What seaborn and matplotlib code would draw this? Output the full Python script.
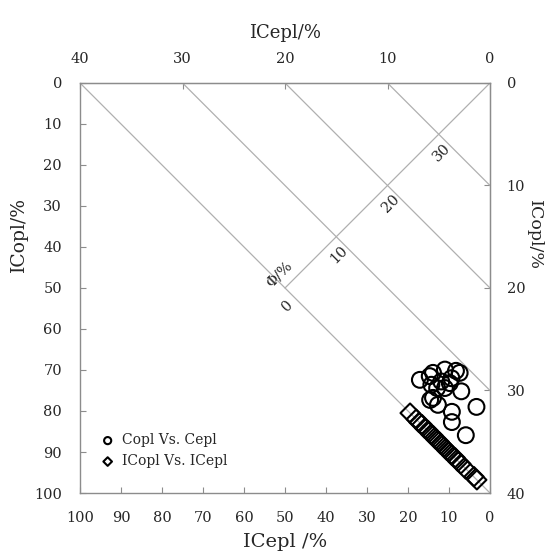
import numpy as np
import pandas as pd
import matplotlib
matplotlib.use('Agg')
import matplotlib.pyplot as plt
import seaborn as sns

# Copl Vs. Cepl (circles)
copl_x = [17.1, 14.7, 13.9, 11.0, 7.4, 8.3, 14.3, 11.9, 9.8, 9.4,
          11.0, 7.0, 13.9, 12.7, 3.3, 9.3, 9.3, 5.9, 12.9, 14.6]
copl_y = [72.4, 71.5, 70.7, 69.9, 70.7, 70.2, 73.6, 72.8, 73.2, 72.0,
          74.4, 75.2, 76.8, 78.5, 79.0, 80.2, 82.7, 85.9, 74.4, 77.3]

# ICopl Vs. ICepl (diamonds)
icopl_x = [19.5, 18.0, 17.3, 16.6, 15.9, 15.1, 14.4, 13.9, 13.2, 12.4, 12.0,
           11.2, 10.5, 10.0, 9.3, 8.5, 7.8, 7.1, 5.9, 3.9, 3.2]
icopl_y = [80.5, 82.0, 82.8, 83.3, 84.2, 84.8, 85.7, 86.0, 86.9, 87.5, 88.1,
           88.8, 89.6, 90.0, 90.8, 91.4, 92.3, 92.9, 94.2, 96.0, 96.8]

# Φ/% iso-lines
phi_levels = [0, 10, 20, 30]

copl = pd.DataFrame({'x': copl_x, 'y': copl_y})
icopl = pd.DataFrame({'x': icopl_x, 'y': icopl_y})

sns.set_style('ticks')
plt.rcParams['font.family'] = ['DejaVu Serif']
plt.rcParams['mathtext.fontset'] = 'dejavuserif'

fig = plt.figure(figsize=(5.5, 5.55), dpi=100)
ax = fig.add_axes([0.1455, 0.1117, 0.7454, 0.7388])

grey = '#b0b0b0'
# Φ lines: x + y = 100 - 2.5*Φ
for phi in phi_levels:
    s = 100 - 2.5 * phi
    ax.plot([s, 0], [0, s], color=grey, lw=0.9, zorder=1)
# diagonal from origin to the Φ=0 line
ax.plot([0, 50], [0, 50], color=grey, lw=0.9, zorder=1)

for phi in phi_levels:
    c = 50 - 1.25 * phi
    ax.annotate(str(phi), (c, c), xytext=(2, -13), textcoords='offset points',
                rotation=45, ha='center', va='center', fontsize=10.5)
ax.annotate('Φ/%', (50, 50), xytext=(-4, 10), textcoords='offset points',
            rotation=45, ha='center', va='center', fontsize=10.5)

sns.scatterplot(data=copl, x='x', y='y', marker='o', s=130, facecolor='none',
                edgecolor='black', linewidth=1.5, ax=ax, label='Copl Vs. Cepl', zorder=3)
sns.scatterplot(data=icopl, x='x', y='y', marker='D', s=95, facecolor='none',
                edgecolor='black', linewidth=1.5, ax=ax, label='ICopl Vs. ICepl', zorder=3)

ax.set_xlim(100, 0)
ax.set_ylim(100, 0)
ax.set_xticks(np.arange(0, 101, 10))
ax.set_yticks(np.arange(0, 101, 10))
ax.set_xlabel('ICepl /%', fontsize=14, labelpad=6)
ax.set_ylabel('ICopl/%', fontsize=13.5, va='center', ha='center')
ax.yaxis.set_label_coords(-0.15, 0.63)

for sp in ax.spines.values():
    sp.set_visible(True)
    sp.set_color('#8c8c8c')
    sp.set_linewidth(1.0)
ax.tick_params(direction='in', length=4, color='#8c8c8c', labelsize=10.5, pad=13)

top = ax.secondary_xaxis('top', functions=(lambda v: v * 0.4, lambda v: v / 0.4))
top.set_xticks([0, 10, 20, 30, 40])
top.set_xlabel('ICepl/%', fontsize=13, labelpad=10)
top.tick_params(direction='in', length=4, color='#8c8c8c', labelsize=10.5, pad=12)

right = ax.secondary_yaxis('right', functions=(lambda v: v * 0.4, lambda v: v / 0.4))
right.set_yticks([0, 10, 20, 30, 40])
right.set_ylabel('ICopl/%', fontsize=12.5, rotation=-90, va='center', ha='center')
right.yaxis.set_label_coords(1.108, 0.63, transform=ax.transAxes)
right.tick_params(direction='in', length=4, color='#8c8c8c', labelsize=10.5, pad=12)
for a in (top, right):
    for sp in a.spines.values():
        sp.set_color('#8c8c8c')

leg = ax.legend(loc='lower left', bbox_to_anchor=(0.02, 0.03), frameon=False,
                fontsize=10, handlelength=1.0, handletextpad=0.5, markerscale=0.45,
                labelspacing=0.5)

fig.savefig('out.png', dpi=100)
